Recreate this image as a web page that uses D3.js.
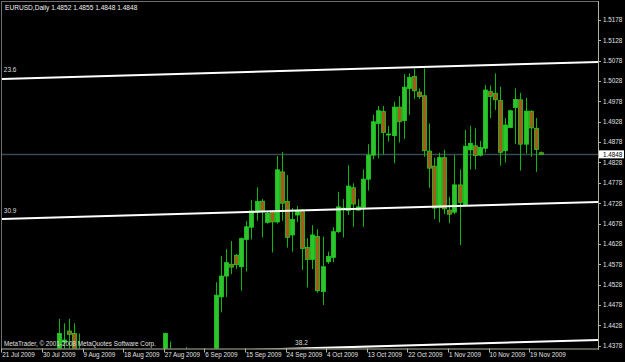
<!DOCTYPE html>
<html>
<head>
<meta charset="utf-8">
<script src="https://cdnjs.cloudflare.com/ajax/libs/d3/7.8.5/d3.min.js"></script>
<style>
  body { margin: 0; background: #000; }
  text { font-family: "Liberation Sans", Arial, sans-serif; }
</style>
</head>
<body>
<div id="chart"></div>
<script>
// EURUSD daily bars, 21 Jul 2009 .. 22 Nov 2009 (broker with Sunday bars)
const opens = [
  1.4175, 1.4210, 1.4150, 1.4180, 1.4200, 1.4195, 1.4220, 1.4140, 1.4080, 1.4100,
  1.4140, 1.4150, 1.4387, 1.4414, 1.4408, 1.4310, 1.4290, 1.4295, 1.4200, 1.4230,
  1.4260, 1.4320, 1.4250, 1.4255, 1.4180, 1.4230, 1.4270, 1.4300, 1.4330, 1.4335,
  1.4270, 1.4290, 1.4250, 1.4300, 1.4330, 1.4335, 1.4300, 1.4230, 1.4250, 1.4290,
  1.4310, 1.4315, 1.4340, 1.4498, 1.4549, 1.4578, 1.4600, 1.4572, 1.4639, 1.4669,
  1.4706, 1.4733, 1.4681, 1.4707, 1.4682, 1.4805, 1.4732, 1.4650, 1.4699, 1.4711,
  1.4619, 1.4590, 1.4646, 1.4511, 1.4584, 1.4595, 1.4658, 1.4712, 1.4710, 1.4766,
  1.4711, 1.4718, 1.4787, 1.4846, 1.4924, 1.4953, 1.4896, 1.4894, 1.4964, 1.4931,
  1.5010, 1.5039, 1.5001, 1.4992, 1.4856, 1.4819, 1.4717, 1.4840, 1.4711, 1.4706,
  1.4773, 1.4725, 1.4859, 1.4869, 1.4846, 1.4863, 1.5002, 1.4998, 1.4980, 1.4857,
  1.4914, 1.4963, 1.4982, 1.4873, 1.4954, 1.4912, 1.4852
];
const highs = [
  1.4240, 1.4225, 1.4200, 1.4245, 1.4210, 1.4240, 1.4230, 1.4160, 1.4120, 1.4160,
  1.4150, 1.4444, 1.4433, 1.4444, 1.4433, 1.4408, 1.4300, 1.4340, 1.4250, 1.4290,
  1.4330, 1.4350, 1.4260, 1.4290, 1.4240, 1.4300, 1.4340, 1.4360, 1.4340, 1.4350,
  1.4310, 1.4320, 1.4410, 1.4388, 1.4340, 1.4360, 1.4375, 1.4280, 1.4330, 1.4330,
  1.4320, 1.4360, 1.4534, 1.4598, 1.4615, 1.4635, 1.4603, 1.4644, 1.4684, 1.4736,
  1.4767, 1.4738, 1.4709, 1.4711, 1.4844, 1.4854, 1.4797, 1.4716, 1.4721, 1.4714,
  1.4642, 1.4674, 1.4664, 1.4646, 1.4609, 1.4669, 1.4756, 1.4738, 1.4821, 1.4777,
  1.4738, 1.4811, 1.4873, 1.4945, 1.4967, 1.4967, 1.4918, 1.4977, 1.4991, 1.5045,
  1.5047, 1.5059, 1.5010, 1.5059, 1.4924, 1.4840, 1.4852, 1.4859, 1.4744, 1.4846,
  1.4811, 1.4908, 1.4918, 1.4912, 1.4881, 1.5018, 1.5017, 1.5047, 1.5014, 1.4937,
  1.4958, 1.5010, 1.4999, 1.4987, 1.4956, 1.4937, 1.4855
];
const lows = [
  1.4150, 1.4130, 1.4110, 1.4140, 1.4190, 1.4150, 1.4120, 1.4050, 1.4010, 1.4050,
  1.4135, 1.4140, 1.4350, 1.4365, 1.4340, 1.4290, 1.4280, 1.4180, 1.4140, 1.4190,
  1.4220, 1.4220, 1.4240, 1.4150, 1.4120, 1.4200, 1.4230, 1.4250, 1.4320, 1.4240,
  1.4200, 1.4220, 1.4240, 1.4260, 1.4320, 1.4260, 1.4210, 1.4200, 1.4230, 1.4240,
  1.4300, 1.4280, 1.4330, 1.4460, 1.4498, 1.4554, 1.4567, 1.4513, 1.4560, 1.4639,
  1.4685, 1.4644, 1.4678, 1.4607, 1.4678, 1.4685, 1.4619, 1.4609, 1.4682, 1.4564,
  1.4521, 1.4566, 1.4508, 1.4478, 1.4579, 1.4583, 1.4655, 1.4644, 1.4699, 1.4670,
  1.4709, 1.4670, 1.4759, 1.4836, 1.4838, 1.4848, 1.4879, 1.4826, 1.4877, 1.4886,
  1.4945, 1.4984, 1.4984, 1.4842, 1.4766, 1.4689, 1.4681, 1.4701, 1.4679, 1.4701,
  1.4625, 1.4722, 1.4811, 1.4811, 1.4843, 1.4852, 1.4937, 1.4957, 1.4820, 1.4828,
  1.4912, 1.4873, 1.4808, 1.4850, 1.4842, 1.4805, 1.4848
];
const closes = [
  1.4210, 1.4150, 1.4180, 1.4200, 1.4195, 1.4220, 1.4140, 1.4080, 1.4100, 1.4140,
  1.4145, 1.4408, 1.4392, 1.4406, 1.4362, 1.4360, 1.4295, 1.4200, 1.4230, 1.4260,
  1.4320, 1.4250, 1.4255, 1.4180, 1.4230, 1.4270, 1.4300, 1.4330, 1.4335, 1.4270,
  1.4290, 1.4250, 1.4408, 1.4330, 1.4335, 1.4300, 1.4230, 1.4250, 1.4290, 1.4310,
  1.4315, 1.4340, 1.4502, 1.4549, 1.4582, 1.4571, 1.4577, 1.4641, 1.4670, 1.4709,
  1.4732, 1.4709, 1.4703, 1.4682, 1.4810, 1.4728, 1.4644, 1.4688, 1.4709, 1.4617,
  1.4590, 1.4650, 1.4513, 1.4572, 1.4597, 1.4658, 1.4719, 1.4716, 1.4770, 1.4726,
  1.4719, 1.4787, 1.4846, 1.4928, 1.4955, 1.4902, 1.4898, 1.4964, 1.4928, 1.5013,
  1.5037, 1.5004, 1.4990, 1.4857, 1.4814, 1.4716, 1.4840, 1.4714, 1.4701, 1.4773,
  1.4730, 1.4868, 1.4875, 1.4845, 1.4865, 1.5006, 1.4990, 1.4982, 1.4853, 1.4920,
  1.4955, 1.4983, 1.4873, 1.4954, 1.4913, 1.4860, 1.4848
];

const dateTickBars = [0, 8, 16, 24, 32, 40, 48, 56, 64, 72, 80, 88, 96, 104];
const dateTickLabels = [
  "21 Jul 2009", "30 Jul 2009", "9 Aug 2009", "18 Aug 2009", "27 Aug 2009",
  "6 Sep 2009", "15 Sep 2009", "24 Sep 2009", "4 Oct 2009", "13 Oct 2009",
  "22 Oct 2009", "1 Nov 2009", "10 Nov 2009", "19 Nov 2009"
];
const priceTicks = [1.5178, 1.5128, 1.5078, 1.5028, 1.4978, 1.4928, 1.4878, 1.4828,
  1.4778, 1.4728, 1.4678, 1.4628, 1.4578, 1.4528, 1.4478, 1.4428, 1.4378];
const bidPrice = 1.4848;

// fibo channel lines: label, [bar, price] at both ends
const fiboLabels = ["23.6", "30.9", "38.2"];
const fiboStart = [[-0.2, 1.5033], [-0.2, 1.4689], [-0.2, 1.4350]];
const fiboEnd = [[117.3, 1.5075], [117.3, 1.4731], [117.3, 1.4392]];
const fiboLabelAt = [[0.2, 1.5050], [0.2, 1.4705], [57.6, 1.4380]];

const W = 625, H = 362;
const plotLeft = 2, plotTop = 2, plotRight = 598, plotBottom = 348.5;

const svg = d3.select("#chart").append("svg")
  .attr("width", W).attr("height", H)
  .style("display", "block");

svg.append("rect").attr("width", W).attr("height", H).attr("fill", "#000");

const x = d3.scaleLinear().domain([0, 106]).range([2.8, 2.8 + 106 * 5.075]);
const y = d3.scaleLinear().domain([1.4378, 1.5178]).range([345.7, 20]);

svg.append("clipPath").attr("id", "plot")
  .append("rect").attr("x", plotLeft).attr("y", plotTop)
  .attr("width", plotRight - plotLeft).attr("height", plotBottom - plotTop);

const plot = svg.append("g").attr("clip-path", "url(#plot)");

// bid line
plot.append("line")
  .attr("x1", plotLeft).attr("x2", plotRight)
  .attr("y1", Math.round(y(bidPrice)) + 0.5).attr("y2", Math.round(y(bidPrice)) + 0.5)
  .attr("stroke", "#3a4a52").attr("stroke-width", 1.4);

// candles
const bars = d3.range(opens.length);
const BODY = 4;

plot.append("g").selectAll("line")
  .data(bars).enter().append("line")
  .attr("x1", function(i) { return Math.round(x(i)) + 0.5; })
  .attr("x2", function(i) { return Math.round(x(i)) + 0.5; })
  .attr("y1", function(i) { return y(highs[i]); })
  .attr("y2", function(i) { return y(lows[i]); })
  .attr("stroke", "#0fb80f").attr("stroke-width", 1);

plot.append("g").selectAll("rect")
  .data(bars).enter().append("rect")
  .attr("x", function(i) { return Math.round(x(i)) - 1.5; })
  .attr("y", function(i) { return y(Math.max(opens[i], closes[i])); })
  .attr("width", BODY)
  .attr("height", function(i) { return Math.max(1, Math.abs(y(opens[i]) - y(closes[i]))); })
  .attr("fill", function(i) { return closes[i] >= opens[i] ? "#2ec42e" : "#a85a1c"; })
  .attr("stroke", "#1ecf1e").attr("stroke-width", 0.8);

// fibo channel
const fibo = plot.append("g");
fibo.selectAll("line")
  .data(fiboLabels).enter().append("line")
  .attr("x1", function(d, k) { return x(fiboStart[k][0]); })
  .attr("y1", function(d, k) { return y(fiboStart[k][1]); })
  .attr("x2", function(d, k) { return x(fiboEnd[k][0]); })
  .attr("y2", function(d, k) { return y(fiboEnd[k][1]); })
  .attr("stroke", "#fff").attr("stroke-width", 2);

fibo.selectAll("text")
  .data(fiboLabels).enter().append("text")
  .attr("x", function(d, k) { return x(fiboLabelAt[k][0]); })
  .attr("y", function(d, k) { return y(fiboLabelAt[k][1]); })
  .attr("font-size", 6.5).attr("fill", "#dcdcdc")
  .text(function(d) { return d; });

// frame
svg.append("line").attr("x1", 1.5).attr("x2", 1.5).attr("y1", 1).attr("y2", plotBottom)
  .attr("stroke", "#6e6e6e");
svg.append("line").attr("x1", 1).attr("x2", plotRight).attr("y1", 1.5).attr("y2", 1.5)
  .attr("stroke", "#6e6e6e");
svg.append("line").attr("x1", plotRight + 0.5).attr("x2", plotRight + 0.5).attr("y1", 1).attr("y2", plotBottom + 1)
  .attr("stroke", "#b4b49c");
svg.append("line").attr("x1", 1).attr("x2", plotRight + 1).attr("y1", plotBottom + 0.5).attr("y2", plotBottom + 0.5)
  .attr("stroke", "#b4b49c");

// price axis
const yAxis = svg.append("g");
yAxis.selectAll("line")
  .data(priceTicks).enter().append("line")
  .attr("x1", plotRight).attr("x2", plotRight + 3)
  .attr("y1", function(d) { return Math.round(y(d)) + 0.5; })
  .attr("y2", function(d) { return Math.round(y(d)) + 0.5; })
  .attr("stroke", "#b4b49c");
yAxis.selectAll("text")
  .data(priceTicks).enter().append("text")
  .attr("x", plotRight + 5)
  .attr("y", function(d) { return y(d) + 2.3; })
  .attr("font-size", 6.3).attr("fill", "#e0e0e0")
  .text(function(d) { return d.toFixed(4); });

// bid label
svg.append("rect")
  .attr("x", plotRight + 1).attr("y", y(bidPrice) - 4)
  .attr("width", 25).attr("height", 8).attr("fill", "#fff");
svg.append("text")
  .attr("x", plotRight + 5).attr("y", y(bidPrice) + 2.3)
  .attr("font-size", 6.3).attr("fill", "#000")
  .text(bidPrice.toFixed(4));

// date axis
const xAxis = svg.append("g");
xAxis.selectAll("line")
  .data(dateTickBars).enter().append("line")
  .attr("x1", function(i) { return Math.round(x(i) - 1.5) + 0.5; })
  .attr("x2", function(i) { return Math.round(x(i) - 1.5) + 0.5; })
  .attr("y1", plotBottom).attr("y2", plotBottom + 4)
  .attr("stroke", "#b4b49c");
xAxis.selectAll("text")
  .data(dateTickBars).enter().append("text")
  .attr("x", function(i) { return x(i) - 0.5; })
  .attr("y", 357)
  .attr("font-size", 6.3).attr("fill", "#e0e0e0")
  .text(function(i, k) { return dateTickLabels[k]; });

// header and copyright
svg.append("text").attr("x", 5).attr("y", 10)
  .attr("font-size", 6.6).attr("fill", "#f0f0f0")
  .text("EURUSD,Daily  1.4852 1.4855 1.4848 1.4848");
svg.append("text").attr("x", 4).attr("y", 346)
  .attr("font-size", 6.3).attr("fill", "#e0e0e0")
  .text("MetaTrader, \u00a9 2001-2008 MetaQuotes Software Corp.");
</script>
</body>
</html>
